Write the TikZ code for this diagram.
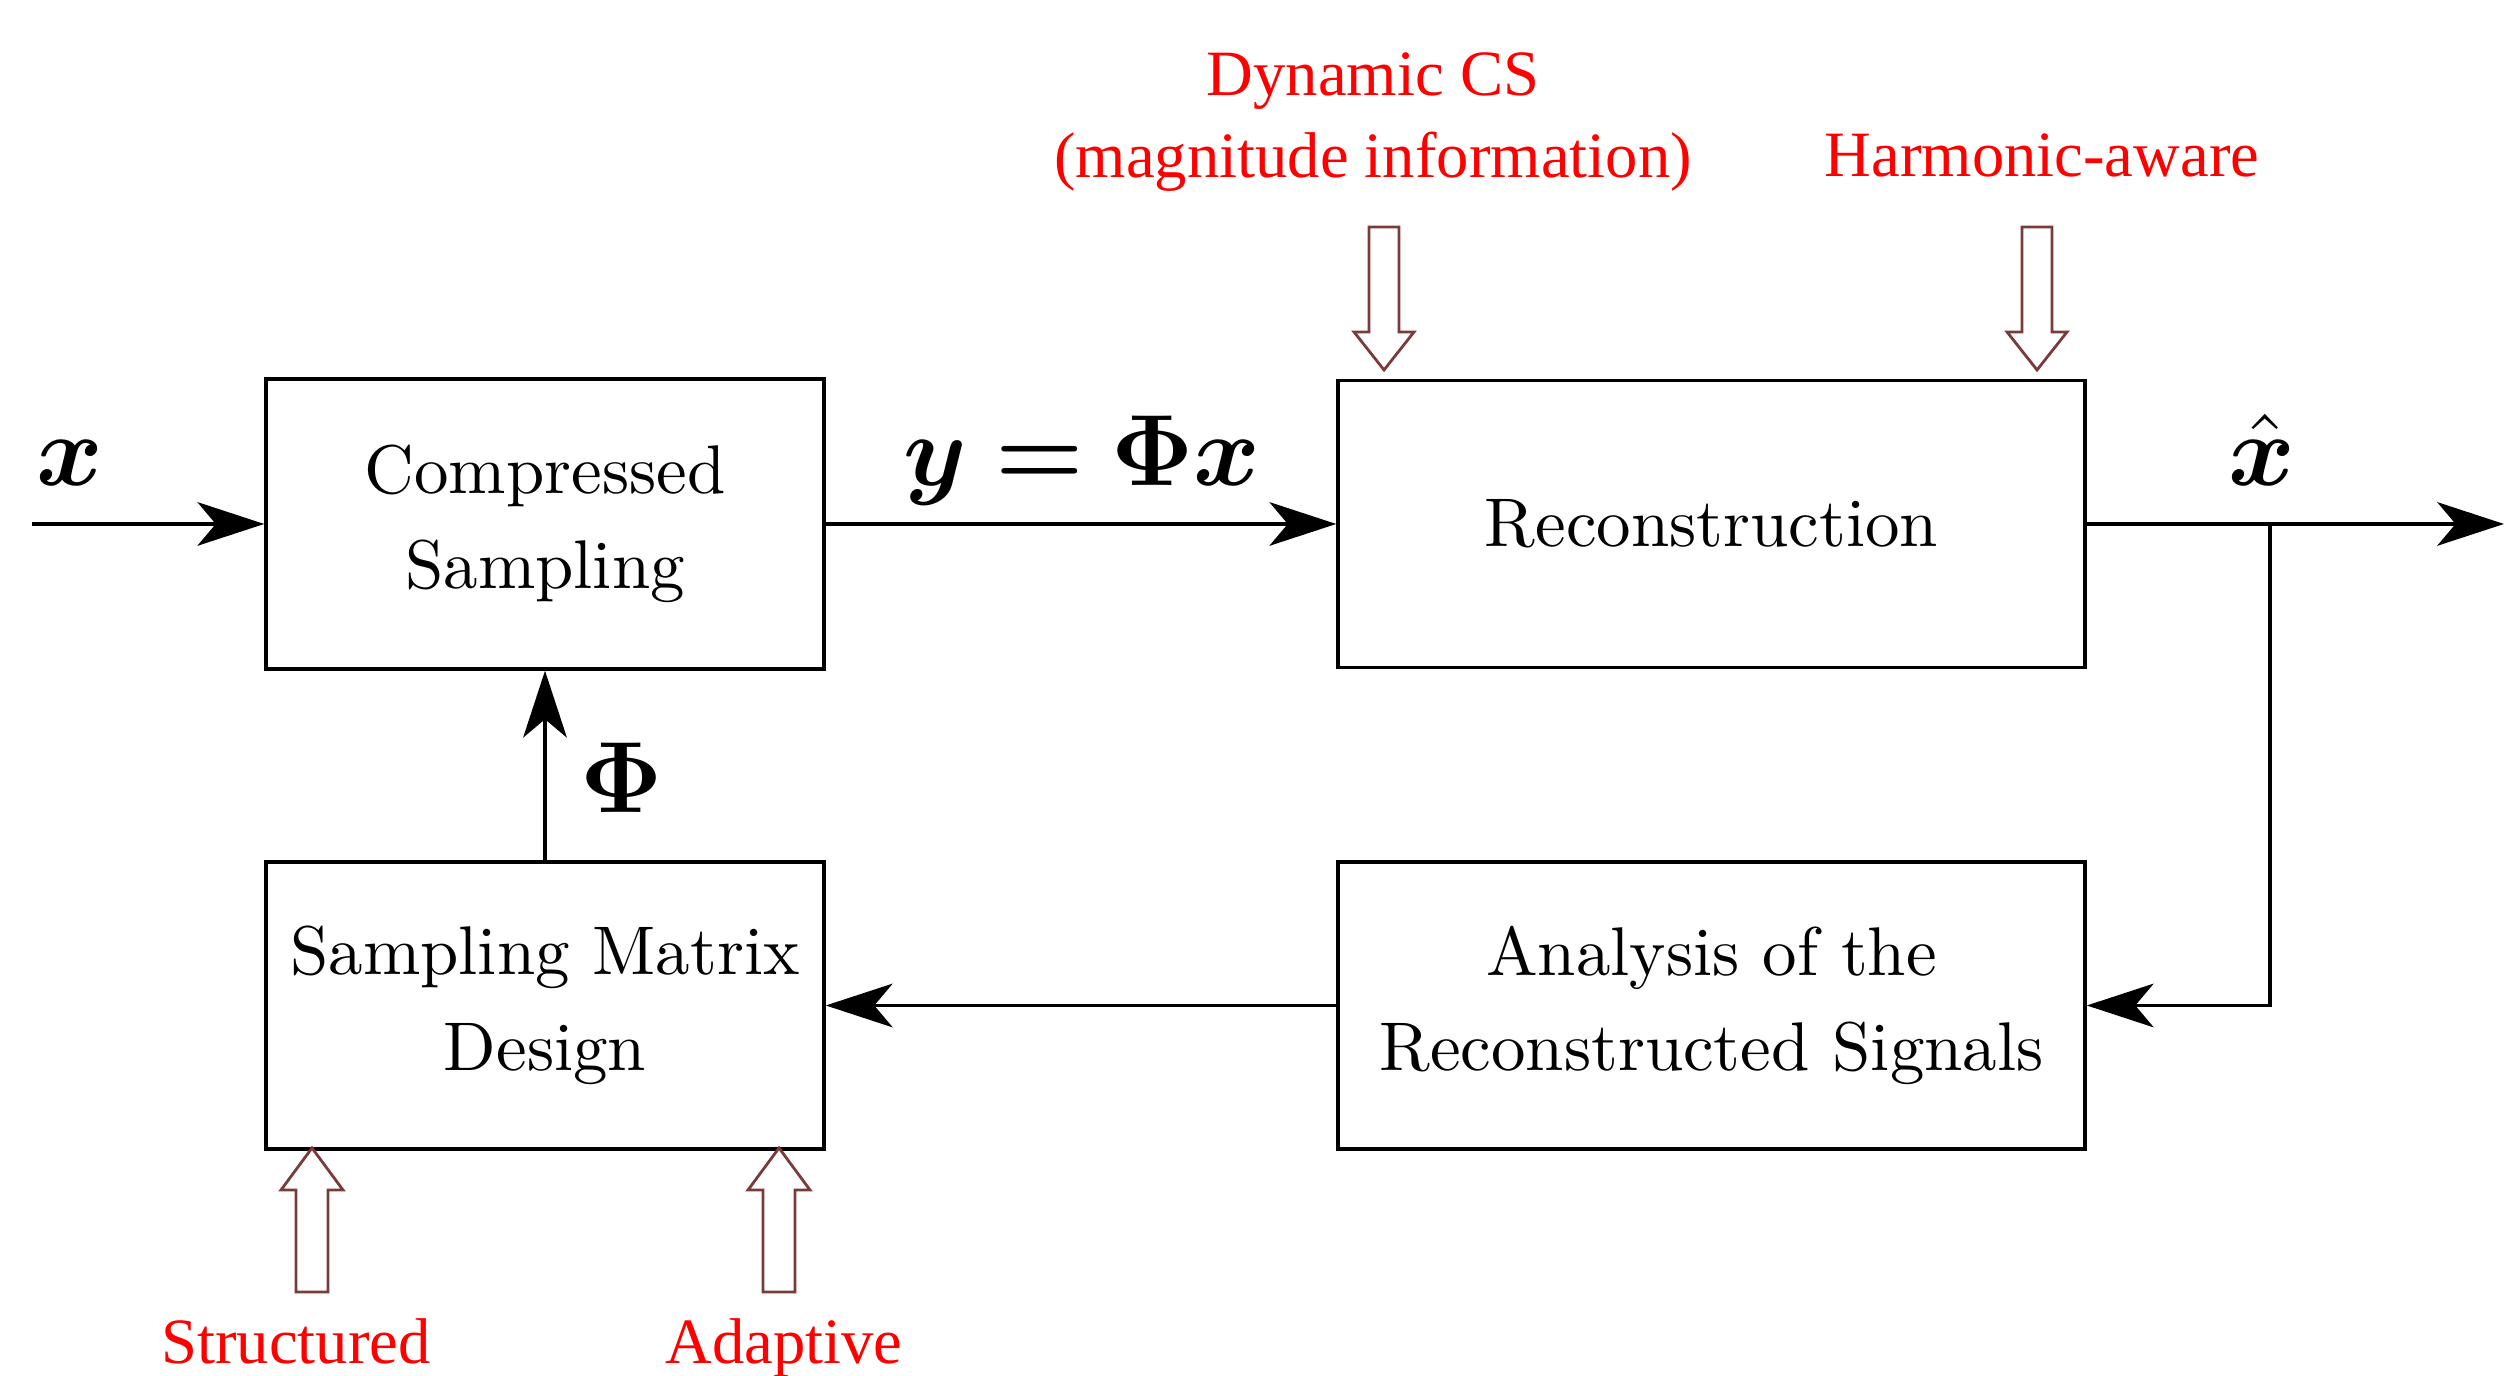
\documentclass[tikz,border=0pt]{standalone}
\usepackage{amsmath,bm}
\usepackage{fontspec}
\newfontfamily\hintfont{Liberation Serif}
\usetikzlibrary{arrows.meta,positioning,calc}
\definecolor{hintred}{HTML}{FF0000}
\definecolor{hollowborder}{HTML}{7A3B3B}

\begin{document}
\begin{tikzpicture}[
 every node/.style={font=\fontsize{9.8}{13.6}\selectfont},
 block/.style={draw,line width=0.5pt,align=center,inner sep=0pt},
 edge/.style={-{Stealth[length=9.5pt,width=6.2pt,inset=2.6pt]},line width=0.5pt},
 sym/.style={font=\fontsize{15.5}{18}\selectfont,anchor=base},
 hint/.style={text=hintred,align=center,font=\hintfont\fontsize{9.2}{11.6}\selectfont},
 hollow/.style={draw=hollowborder,line width=0.4pt,fill=white}
]
\useasboundingbox (0,0) rectangle (12.54,6.88);

\node[block,minimum width=2.79cm,minimum height=1.45cm] (cs) at (2.725,4.26) {Compressed\\Sampling};
\node[block,minimum width=3.735cm,minimum height=1.435cm] (rec) at (8.5575,4.26) {Reconstruction};
\node[block,minimum width=2.79cm,minimum height=1.435cm] (smd) at (2.725,1.8525) {Sampling Matrix\\Design};
\node[block,minimum width=3.735cm,minimum height=1.435cm] (ana) at (8.5575,1.8525) {Analysis of the\\Reconstructed Signals};

\coordinate (in) at (0.16,4.26);
\coordinate (out) at (12.52,4.26);
\coordinate (tap) at (11.35,4.26);
\draw[edge] (in) -- (cs);
\draw[edge] (cs) -- (rec);
\draw[edge] (rec) -- (out);
\draw[edge] (tap) |- (ana);
\draw[edge] (ana) -- (smd);
\draw[edge] (smd) -- (cs);

\node[sym] (xin) at (0.35,4.45) {$\bm{x}$};
\node[sym] (meas) at (5.41,4.45) {$\bm{y=\Phi x}$};
\node[sym] (xhat) at (11.31,4.45) {$\hat{\bm{x}}$};
\node[sym] (phi) at (3.11,2.815) {$\bm{\Phi}$};

\node[hint] (dcs) at (6.865,6.27) {Dynamic CS\\(magnitude information)};
\node[hint] (harm) at (10.21,6.105) {Harmonic-aware};
\node[hint,anchor=base] (struct) at (1.48,0.06) {Structured};
\node[hint,anchor=base] (adapt) at (3.92,0.06) {Adaptive};

% hollow hint arrows
\foreach \x in {6.92,10.185}
 \draw[hollow] (\x,5.03) -- ++(-0.15,0.19) -- ++(0.075,0) -- ++(0,0.525) -- ++(0.15,0) -- ++(0,-0.525) -- ++(0.075,0) -- cycle;
\foreach \x in {1.56,3.895}
 \draw[hollow] (\x,1.14) -- ++(-0.155,-0.21) -- ++(0.075,0) -- ++(0,-0.51) -- ++(0.16,0) -- ++(0,0.51) -- ++(0.075,0) -- cycle;
\end{tikzpicture}
\end{document}
